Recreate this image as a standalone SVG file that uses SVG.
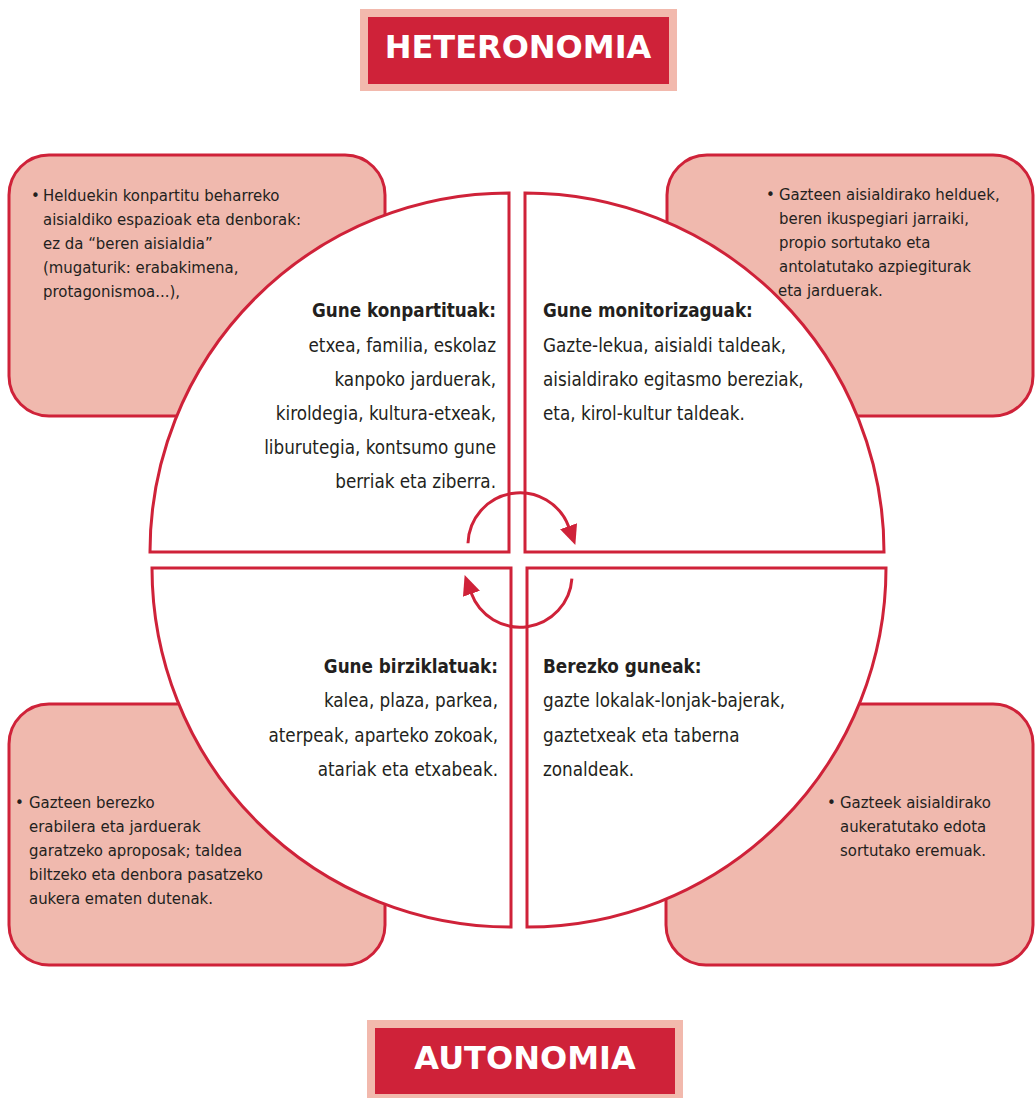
<svg xmlns="http://www.w3.org/2000/svg" width="1035" height="1098" viewBox="0 0 1035 1098">
<defs>
<style>
.box{fill:#F0B9AE;stroke:#CF2239;stroke-width:3}
.quad{fill:#FFFFFF;stroke:#CF2239;stroke-width:3;stroke-linejoin:miter}
.tOuter{fill:#F2B9AD}
.tInner{fill:#CF2239}
.title{font-family:'DejaVu Sans','Liberation Sans',sans-serif;font-weight:bold;font-size:32px;fill:#FFFFFF;text-anchor:middle}
.big{font-family:'DejaVu Sans Condensed','DejaVu Sans',sans-serif;font-stretch:condensed;font-size:18.7px;fill:#231F20}
.bold{font-weight:bold}
.small{font-family:'DejaVu Sans Condensed','DejaVu Sans',sans-serif;font-stretch:condensed;font-size:16.6px;fill:#231F20}
.end{text-anchor:end}
.arc{fill:none;stroke:#CF2239;stroke-width:3}
</style>
<marker id="ah" markerWidth="22" markerHeight="18" refX="1" refY="9" orient="auto" markerUnits="userSpaceOnUse">
<path d="M0,0 L20,9 L0,18 Z" fill="#CF2239"/>
</marker>
</defs>

<g id="title-heteronomia">
<rect class="tOuter" x="360" y="9" width="317" height="82"/>
<rect class="tInner" x="368" y="17" width="301" height="67"/>
<text class="title" x="518" y="58">HETERONOMIA</text>
</g>

<g id="title-autonomia">
<rect class="tOuter" x="367" y="1020" width="316" height="82"/>
<rect class="tInner" x="375" y="1028" width="300" height="66"/>
<text class="title" x="525" y="1069">AUTONOMIA</text>
</g>

<g id="box-tl">
<rect class="box" x="9" y="155" width="376" height="261" rx="40"/>
<text class="small"><tspan x="31" y="201">•</tspan><tspan x="43" y="201">Helduekin konpartitu beharreko</tspan><tspan x="43" y="225">aisialdiko espazioak eta denborak:</tspan><tspan x="43" y="249">ez da “beren aisialdia”</tspan><tspan x="43" y="273">(mugaturik: erabakimena,</tspan><tspan x="43" y="297">protagonismoa...),</tspan></text>
</g>

<g id="box-tr">
<rect class="box" x="667" y="155" width="366" height="261" rx="40"/>
<text class="small"><tspan x="766" y="200">•</tspan><tspan x="779" y="200">Gazteen aisialdirako helduek,</tspan><tspan x="779" y="224">beren ikuspegiari jarraiki,</tspan><tspan x="779" y="248">propio sortutako eta</tspan><tspan x="779" y="272">antolatutako azpiegiturak</tspan><tspan x="778" y="296">eta jarduerak.</tspan></text>
</g>

<g id="box-bl">
<rect class="box" x="9" y="704" width="376" height="261" rx="40"/>
<text class="small"><tspan x="15" y="808">•</tspan><tspan x="29" y="808">Gazteen berezko</tspan><tspan x="29" y="832">erabilera eta jarduerak</tspan><tspan x="29" y="856">garatzeko aproposak; taldea</tspan><tspan x="29" y="880">biltzeko eta denbora pasatzeko</tspan><tspan x="29" y="904">aukera ematen dutenak.</tspan></text>
</g>

<g id="box-br">
<rect class="box" x="666" y="704" width="367" height="261" rx="40"/>
<text class="small"><tspan x="827" y="808">•</tspan><tspan x="840" y="808">Gazteek aisialdirako</tspan><tspan x="840" y="832">aukeratutako edota</tspan><tspan x="840" y="856">sortutako eremuak.</tspan></text>
</g>

<g id="quad-tl">
<path class="quad" d="M509,552 L150,552 A359,359 0 0 1 509,193 Z"/>
<text class="big end"><tspan class="bold" x="496" y="317">Gune konpartituak:</tspan><tspan x="496" y="351.5">etxea, familia, eskolaz</tspan><tspan x="496" y="385.5">kanpoko jarduerak,</tspan><tspan x="496" y="419.5">kiroldegia, kultura-etxeak,</tspan><tspan x="496" y="454">liburutegia, kontsumo gune</tspan><tspan x="496" y="488">berriak eta ziberra.</tspan></text>
</g>

<g id="quad-tr">
<path class="quad" d="M525,552 L525,193 A359,359 0 0 1 884,552 Z"/>
<text class="big"><tspan class="bold" x="543" y="317">Gune monitorizaguak:</tspan><tspan x="543" y="351.5">Gazte-lekua, aisialdi taldeak,</tspan><tspan x="543" y="385.5">aisialdirako egitasmo bereziak,</tspan><tspan x="543" y="419.5">eta, kirol-kultur taldeak.</tspan></text>
</g>

<g id="quad-bl">
<path class="quad" d="M511,568 L511,927 A359,359 0 0 1 152,568 Z"/>
<text class="big end"><tspan class="bold" x="498" y="673">Gune birziklatuak:</tspan><tspan x="498" y="707">kalea, plaza, parkea,</tspan><tspan x="498" y="741.5">aterpeak, aparteko zokoak,</tspan><tspan x="498" y="776">atariak eta etxabeak.</tspan></text>
</g>

<g id="quad-br">
<path class="quad" d="M527,568 L886,568 A359,359 0 0 1 527,927 Z"/>
<text class="big"><tspan class="bold" x="543" y="673">Berezko guneak:</tspan><tspan x="543" y="707">gazte lokalak-lonjak-bajerak,</tspan><tspan x="543" y="741.5">gaztetxeak eta taberna</tspan><tspan x="543" y="776">zonaldeak.</tspan></text>
</g>

<g id="connectors">
<path class="arc" d="M468,543.2 A52,52 0 0 1 568.9,527.2" marker-end="url(#ah)"/>
<path class="arc" d="M571.9,578.6 A52,52 0 0 1 471.1,592.8" marker-end="url(#ah)"/>
</g>
</svg>
